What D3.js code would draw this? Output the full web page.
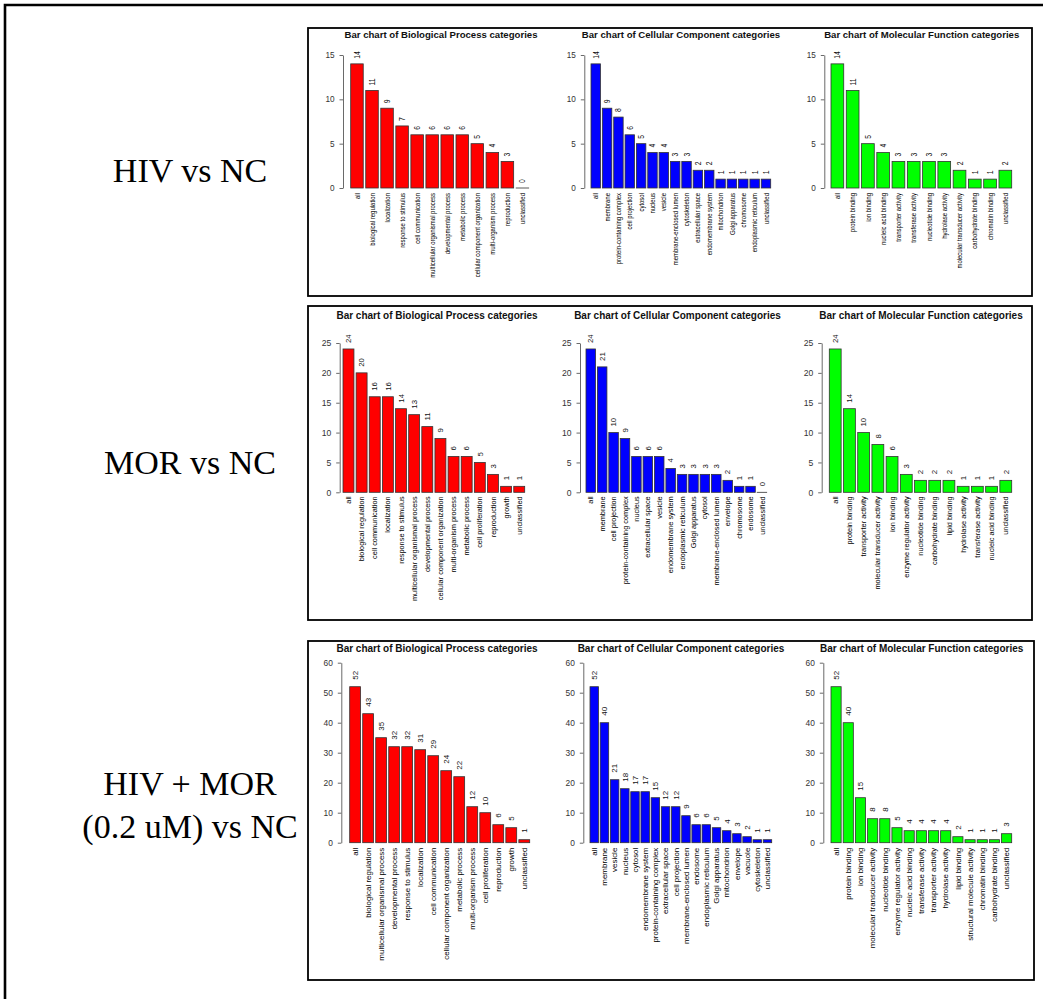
<!DOCTYPE html>
<html>
<head>
<meta charset="utf-8">
<script src="https://cdn.jsdelivr.net/npm/d3@7"></script>
<style>
  body { margin: 0; background: #fff; }
  svg { display: block; }
</style>
</head>
<body>
<script>
'use strict';

// ---- données ----
const bp1Cats = ["all", "biological regulation", "localization", "response to stimulus", "cell communication",
  "multicellular organismal process", "developmental process", "metabolic process",
  "cellular component organization", "multi-organism process", "reproduction", "unclassified"];
const bp1Vals = [14, 11, 9, 7, 6, 6, 6, 6, 5, 4, 3, 0];

const cc1Cats = ["all", "membrane", "protein-containing complex", "cell projection", "cytosol", "nucleus",
  "vesicle", "membrane-enclosed lumen", "cytoskeleton", "extracellular space", "endomembrane system",
  "mitochondrion", "Golgi apparatus", "chromosome", "endoplasmic reticulum", "unclassified"];
const cc1Vals = [14, 9, 8, 6, 5, 4, 4, 3, 3, 2, 2, 1, 1, 1, 1, 1];

const mf1Cats = ["all", "protein binding", "ion binding", "nucleic acid binding", "transporter activity",
  "transferase activity", "nucleotide binding", "hydrolase activity", "molecular transducer activity",
  "carbohydrate binding", "chromatin binding", "unclassified"];
const mf1Vals = [14, 11, 5, 4, 3, 3, 3, 3, 2, 1, 1, 2];

const bp2Cats = ["all", "biological regulation", "cell communication", "localization", "response to stimulus",
  "multicellular organismal process", "developmental process", "cellular component organization",
  "multi-organism process", "metabolic process", "cell proliferation", "reproduction", "growth", "unclassified"];
const bp2Vals = [24, 20, 16, 16, 14, 13, 11, 9, 6, 6, 5, 3, 1, 1];

const cc2Cats = ["all", "membrane", "cell projection", "protein-containing complex", "nucleus",
  "extracellular space", "vesicle", "endomembrane system", "endoplasmic reticulum", "Golgi apparatus",
  "cytosol", "membrane-enclosed lumen", "envelope", "chromosome", "endosome", "unclassified"];
const cc2Vals = [24, 21, 10, 9, 6, 6, 6, 4, 3, 3, 3, 3, 2, 1, 1, 0];

const mf2Cats = ["all", "protein binding", "transporter activity", "molecular transducer activity", "ion binding",
  "enzyme regulator activity", "nucleotide binding", "carbohydrate binding", "lipid binding",
  "hydrolase activity", "transferase activity", "nucleic acid binding", "unclassified"];
const mf2Vals = [24, 14, 10, 8, 6, 3, 2, 2, 2, 1, 1, 1, 2];

const bp3Cats = ["all", "biological regulation", "multicellular organismal process", "developmental process",
  "response to stimulus", "localization", "cell communication", "cellular component organization",
  "metabolic process", "multi-organism process", "cell proliferation", "reproduction", "growth", "unclassified"];
const bp3Vals = [52, 43, 35, 32, 32, 31, 29, 24, 22, 12, 10, 6, 5, 1];

const cc3Cats = ["all", "membrane", "vesicle", "nucleus", "cytosol", "endomembrane system",
  "protein-containing complex", "extracellular space", "cell projection", "membrane-enclosed lumen",
  "endosome", "endoplasmic reticulum", "Golgi apparatus", "mitochondrion", "envelope", "vacuole",
  "cytoskeleton", "unclassified"];
const cc3Vals = [52, 40, 21, 18, 17, 17, 15, 12, 12, 9, 6, 6, 5, 4, 3, 2, 1, 1];

const mf3Cats = ["all", "protein binding", "ion binding", "molecular transducer activity", "nucleotide binding",
  "enzyme regulator activity", "nucleic acid binding", "transferase activity", "transporter activity",
  "hydrolase activity", "lipid binding", "structural molecule activity", "chromatin binding",
  "carbohydrate binding", "unclassified"];
const mf3Vals = [52, 40, 15, 8, 8, 5, 4, 4, 4, 4, 2, 1, 1, 1, 3];

const panelTitles = ["Bar chart of Biological Process categories",
  "Bar chart of Cellular Component categories",
  "Bar chart of Molecular Function categories"];
const panelColors = ["#ff0000", "#0000ff", "#00ff00"];
const rowLabels = [["HIV vs NC"], ["MOR vs NC"], ["HIV + MOR", "(0.2 uM) vs NC"]];
const rowTicks = [[0, 5, 10, 15], [0, 5, 10, 15, 20, 25], [0, 10, 20, 30, 40, 50, 60]];
const rowData = [
  [[bp1Cats, bp1Vals], [cc1Cats, cc1Vals], [mf1Cats, mf1Vals]],
  [[bp2Cats, bp2Vals], [cc2Cats, cc2Vals], [mf2Cats, mf2Vals]],
  [[bp3Cats, bp3Vals], [cc3Cats, cc3Vals], [mf3Cats, mf3Vals]]
];

// ---- mise en page ----
// catLen : longueur visée (px) du libellé "multicellular organismal process"
// tall : étirement des textes verticaux en travers (image de la 1re ligne plus large)
const rows = [
  { box: [308, 28, 1032, 296], y0: 188, yTop: 55, titleY: 38, labelY: [182],
    catLen: 85, tall: 1.25, fsVal: 6.8, fsTick: 8.2, fsTitle: 9.6, valGap: 5, catGap: 5,
    panels: [{ axisX: 343, left: 350.7, right: 528.7, titleX: 441 },
             { axisX: 584.3, left: 591, right: 770.7, titleX: 681 },
             { axisX: 824.3, left: 831, right: 1011.7, titleX: 921.7 }] },
  { box: [308, 306, 1032, 620], y0: 492.3, yTop: 343, titleY: 319, labelY: [474],
    catLen: 105, tall: 1, fsVal: 7.8, fsTick: 8.6, fsTitle: 10, valGap: 6, catGap: 4,
    panels: [{ axisX: 339.7, left: 343, right: 524.7, titleX: 437 },
             { axisX: 580, left: 586, right: 766.7, titleX: 677.5 },
             { axisX: 821.7, left: 829.3, right: 1011.7, titleX: 921 }] },
  { box: [308, 641, 1034, 980], y0: 842.7, yTop: 662.7, titleY: 652, labelY: [795, 838],
    catLen: 113, tall: 1, fsVal: 8, fsTick: 8.4, fsTitle: 10, valGap: 7, catGap: 5,
    panels: [{ axisX: 341.3, left: 349.7, right: 529.7, titleX: 437 },
             { axisX: 583.3, left: 590, right: 771.7, titleX: 681 },
             { axisX: 823.3, left: 831, right: 1011.7, titleX: 921.7 }] }
];

const sansFont = "'Liberation Sans', Arial, sans-serif";
const baseFs = 10;

const svg = d3.select("body").append("svg")
  .attr("width", 1043)
  .attr("height", 999);

// facteur d'échelle pour qu'un texte (police 10px) ait la longueur voulue
function fitScale(txt, target) {
  const t = svg.append("text")
    .style("font-family", sansFont)
    .style("font-size", baseFs + "px")
    .text(txt);
  const k = target / t.node().getComputedTextLength();
  t.remove();
  return k;
}

// cadre extérieur (haut et gauche)
svg.append("path")
  .attr("d", "M5,999 L5,5 L1043,5")
  .attr("fill", "none")
  .attr("stroke", "#000")
  .attr("stroke-width", 2.6);

rows.forEach(function(row, r) {
  const g = svg.append("g");
  const kCat = fitScale("multicellular organismal process", row.catLen);

  g.append("rect")
    .attr("x", row.box[0]).attr("y", row.box[1])
    .attr("width", row.box[2] - row.box[0])
    .attr("height", row.box[3] - row.box[1])
    .attr("fill", "none")
    .attr("stroke", "#000")
    .attr("stroke-width", 1.8);

  // étiquette de la ligne
  g.selectAll("text.rowlab")
    .data(rowLabels[r])
    .enter().append("text")
      .attr("class", "rowlab")
      .attr("x", 190)
      .attr("y", (d, i) => row.labelY[i])
      .attr("text-anchor", "middle")
      .style("font-family", "'Liberation Serif', 'Times New Roman', serif")
      .style("font-size", "34px")
      .text(d => d);

  const ticks = rowTicks[r];
  const y = d3.scaleLinear()
    .domain([0, d3.max(ticks)])
    .range([row.y0, row.yTop]);

  row.panels.forEach(function(p, c) {
    const cats = rowData[r][c][0];
    const vals = rowData[r][c][1];
    const pg = g.append("g");

    const x = d3.scaleBand()
      .domain(cats)
      .range([p.left, p.right])
      .paddingInner(0.2 / 1.2)
      .paddingOuter(0);

    pg.append("text")
      .attr("x", p.titleX)
      .attr("y", row.titleY)
      .attr("text-anchor", "middle")
      .style("font-family", sansFont)
      .style("font-weight", "bold")
      .style("font-size", row.fsTitle + "px")
      .style("fill", "#111")
      .text(panelTitles[c]);

    // axe des Y
    const ax = pg.append("g")
      .attr("transform", "translate(" + p.axisX + ",0)")
      .call(d3.axisLeft(y).tickValues(ticks).tickSize(3.5).tickSizeOuter(0).tickPadding(5));
    ax.select(".domain").attr("stroke", "#444").attr("stroke-width", 0.8);
    ax.selectAll(".tick line").attr("stroke", "#444").attr("stroke-width", 0.8);
    ax.selectAll(".tick text")
      .style("font-family", sansFont)
      .style("font-size", row.fsTick + "px")
      .attr("fill", "#333");

    const data = cats.map((k, i) => ({ cat: k, value: vals[i] }));

    // barres
    pg.selectAll("rect.bar")
      .data(data)
      .enter().append("rect")
        .attr("class", "bar")
        .attr("x", d => x(d.cat))
        .attr("y", d => y(d.value))
        .attr("width", x.bandwidth())
        .attr("height", d => Math.max(row.y0 - y(d.value), 0.01))
        .style("fill", panelColors[c])
        .style("stroke", "#333")
        .style("stroke-width", 0.8);

    // valeurs au-dessus des barres
    pg.selectAll("text.val")
      .data(data)
      .enter().append("text")
        .attr("class", "val")
        .attr("transform", d => "translate(" + (x(d.cat) + x.bandwidth() / 2) + "," + (y(d.value) - row.valGap) + ") rotate(-90) scale(1," + row.tall + ")")
        .attr("dy", "0.35em")
        .attr("text-anchor", "start")
        .style("font-family", sansFont)
        .style("font-size", row.fsVal + "px")
        .style("fill", "#111")
        .text(d => d.value);

    // noms des catégories (police 10px réduite par transformation)
    pg.selectAll("text.cat")
      .data(data)
      .enter().append("text")
        .attr("class", "cat")
        .attr("transform", d => "translate(" + (x(d.cat) + x.bandwidth() / 2) + "," + (row.y0 + row.catGap) + ") rotate(-90) scale(" + kCat + "," + (kCat * row.tall) + ")")
        .attr("dy", "0.35em")
        .attr("text-anchor", "end")
        .style("font-family", sansFont)
        .style("font-size", baseFs + "px")
        .style("fill", "#000")
        .text(d => d.cat);
  });
});
</script>
</body>
</html>
